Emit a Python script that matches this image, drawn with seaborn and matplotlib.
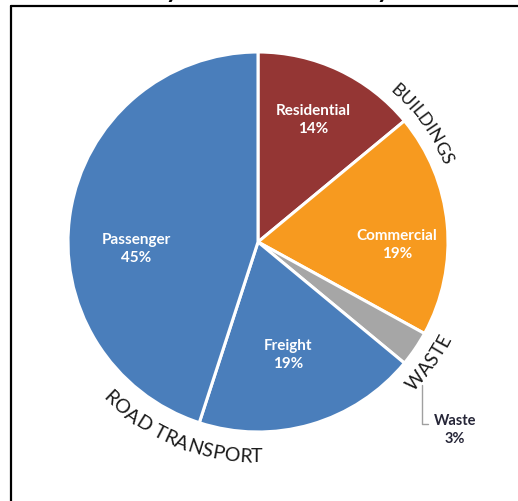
import numpy as np
import matplotlib
matplotlib.use("Agg")
import matplotlib.pyplot as plt
import seaborn as sns
from matplotlib.font_manager import FontProperties
from matplotlib.textpath import TextToPath
from matplotlib.lines import Line2D

# ---- data ----
categories = ["Residential", "Commercial", "Waste", "Freight", "Passenger"]
values = [14, 19, 3, 19, 45]
pct_labels = ["14%", "19%", "3%", "19%", "45%"]
group_labels = ["BUILDINGS", "WASTE", "ROAD TRANSPORT"]
title_text = "Community GHG Emissions by Sector"

colors = sns.color_palette(["#943634", "#F79A1F", "#A6A6A6", "#4A7EBB", "#4A7EBB"])

sns.set_theme(style="white")
plt.rcParams['font.family'] = ['Lato', 'DejaVu Sans']

W, H = 518, 502
DPI = 100
fig = plt.figure(figsize=(W / DPI, H / DPI), dpi=DPI)
ax = fig.add_axes([0, 0, 1, 1])
ax.set_xlim(0, W)
ax.set_ylim(0, H)
ax.axis('off')

cx, cy, R = 258, H - 243, 190

wedges, _ = ax.pie(values, colors=colors, startangle=90, counterclock=False,
                   center=(cx, cy), radius=R,
                   wedgeprops=dict(edgecolor='white', linewidth=2.2))
ax.set_xlim(0, W)
ax.set_ylim(0, H)
ax.set_aspect('auto')

# inner labels (radius fraction, angle in deg) per category
label_pos = {"Residential": (0.71, 66), "Commercial": (0.73, -1),
             "Freight": (0.61, -75), "Passenger": (0.64, 183)}
for cat, pct in zip(categories, pct_labels):
    if cat not in label_pos:
        continue
    rf, ang = label_pos[cat]
    a = np.deg2rad(ang)
    ax.text(cx + rf * R * np.cos(a), cy + rf * R * np.sin(a), f"{cat}\n{pct}",
            ha='center', va='center', color='white', fontsize=11,
            fontweight='bold', linespacing=1.35)

# Waste callout
wi = categories.index("Waste")
ax.annotate("", xy=(422, H - 383), xytext=(431, H - 425),
            arrowprops=dict(arrowstyle='-', color='#A0A0A0', lw=1,
                            connectionstyle="angle,angleA=0,angleB=90,rad=0"))
ax.text(434, H - 430, f"{categories[wi]}\n{pct_labels[wi]}", ha='left', va='center',
        color='#262638', fontsize=10.5, fontweight='bold', linespacing=1.4,
        multialignment='center')

# curved group labels
t2p = TextToPath()


def curved_text(s, radius, mid_deg, size, ccw):
    fp = FontProperties(family='Lato', size=size)
    scale = DPI / 72.0
    total = t2p.get_text_width_height_descent(s, fp, ismath=False)[0] * scale
    span = total / radius
    mid = np.deg2rad(mid_deg)
    for i, ch in enumerate(s):
        off = t2p.get_text_width_height_descent(s[:i], fp, ismath=False)[0] * scale if i else 0.0
        w = t2p.get_text_width_height_descent(ch, fp, ismath=False)[0] * scale
        d = (off + w / 2) / radius - span / 2
        a = mid + d if ccw else mid - d
        rot = np.rad2deg(a) + (90 if ccw else -90)
        if ch == ' ':
            continue
        ax.text(cx + radius * np.cos(a), cy + radius * np.sin(a), ch,
                rotation=rot, rotation_mode='anchor', ha='center', va='center',
                fontproperties=fp, color='#1a1a1a')


curved_text(group_labels[0], 206, 36, 13, ccw=False)
curved_text(group_labels[1], 210, -35, 13.5, ccw=True)
curved_text(group_labels[2], 214, 248, 14, ccw=True)

# cropped title and frame
fig.text(0.5, 1 + 2.0 / H, title_text, ha='center', va='baseline',
         fontsize=18, fontweight='bold', color='black')
fig.add_artist(Line2D([11 / W, 1], [1 - 7 / H, 1 - 7 / H], color='black', lw=1.6,
                      transform=fig.transFigure))
fig.add_artist(Line2D([11 / W, 11 / W], [0, 1 - 7 / H], color='black', lw=1.6,
                      transform=fig.transFigure))

fig.savefig("out.png", dpi=DPI)
